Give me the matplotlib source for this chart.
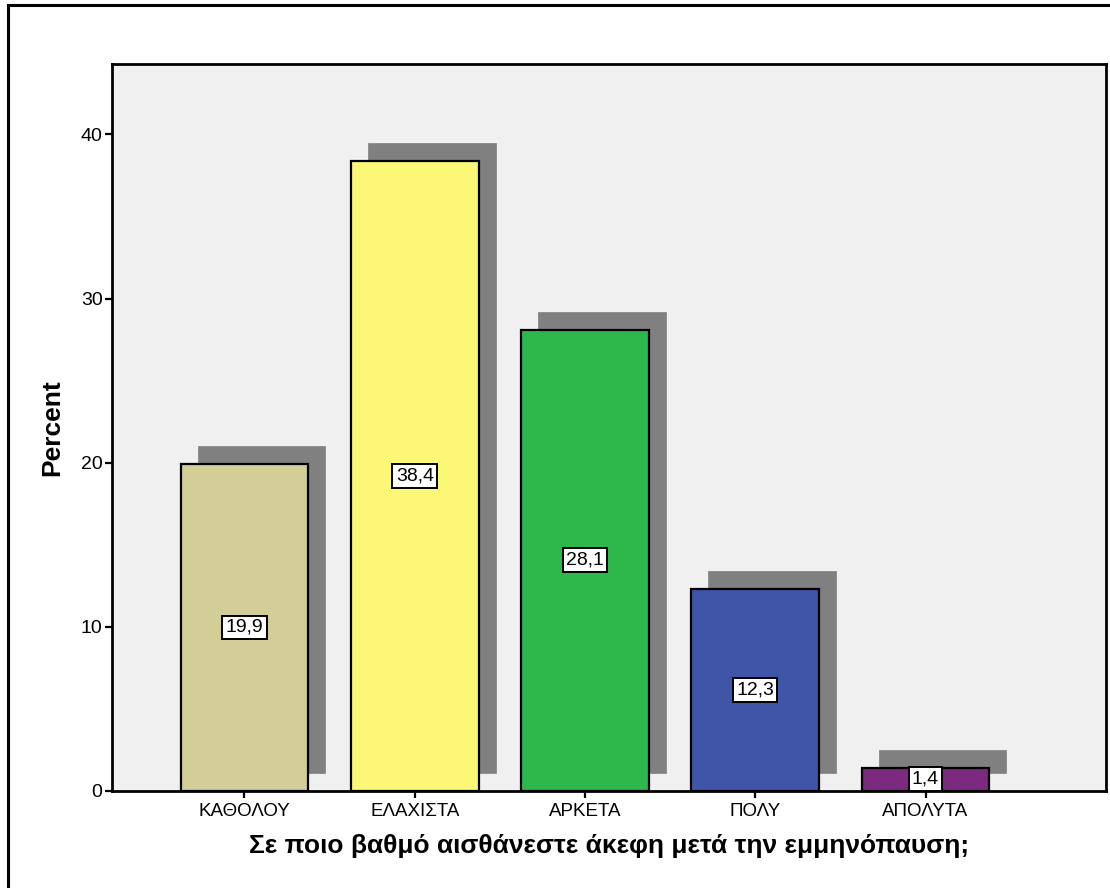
import matplotlib
matplotlib.use('Agg')

import matplotlib.pyplot as plt
import matplotlib.patches as mpatches
import numpy as np

categories = ['ΚΑΘΟΛΟΥ', 'ΕΛΑΧΙΣΤΑ', 'ΑΡΚΕΤΑ', 'ΠΟΛΥ', 'ΑΠΟΛΥΤΑ']
percent = [19.9, 38.4, 28.1, 12.3, 1.4]
bar_colors = ['#D3CE97', '#FBF877', '#2EB84B', '#3F56A8', '#7C2A7F']
y_ticks = [0, 10, 20, 30, 40]
x_title = 'Σε ποιο βαθμό αισθάνεστε άκεφη μετά την εμμηνόπαυση;'
y_title = 'Percent'

plt.rcParams['font.family'] = ['Liberation Sans', 'DejaVu Sans']

fig = plt.figure(figsize=(11.1, 8.88), dpi=100)
ax = fig.add_axes([0.1012, 0.1096, 0.8952, 0.8184])
ax.set_facecolor('#F0F0F0')

# outer chart frame (runs off the right and bottom edges)
frame = mpatches.Rectangle((0.0075, -0.05), 1.1, 1.0443, transform=fig.transFigure,
                           fill=False, edgecolor='black', linewidth=2.2, clip_on=False)
fig.patches.append(frame)

x = np.arange(len(categories))
width = 0.75

# drop shadows behind the bars
ax.bar(x + 0.1, percent, width=width, bottom=1.1, color='#808080',
       edgecolor='#808080', linewidth=0.5, zorder=2)
ax.bar(x, percent, width=width, color=bar_colors, edgecolor='black',
       linewidth=1.6, zorder=3)

for xi, val in zip(x, percent):
    ax.text(xi, val / 2, ('%.1f' % val).replace('.', ','), ha='center', va='center',
            fontsize=14, zorder=5,
            bbox=dict(boxstyle='square,pad=0.17', facecolor='white',
                      edgecolor='black', linewidth=1.4))

ax.set_xlim(-0.776, 5.06)
ax.set_ylim(0, 44.3)
ax.set_yticks(y_ticks)
ax.set_xticks(x)
ax.set_xticklabels(categories, fontsize=13.5)
ax.tick_params(axis='y', labelsize=14, length=5, width=1.6, pad=2)
ax.tick_params(axis='x', length=5, width=1.6, pad=4)

for side in ax.spines.values():
    side.set_linewidth(2)

ax.set_xlabel(x_title, fontsize=19, fontweight='bold', labelpad=10)
ax.set_ylabel(y_title, fontsize=19, fontweight='bold', labelpad=12)

plt.savefig('out.png', dpi=100)
plt.close()
